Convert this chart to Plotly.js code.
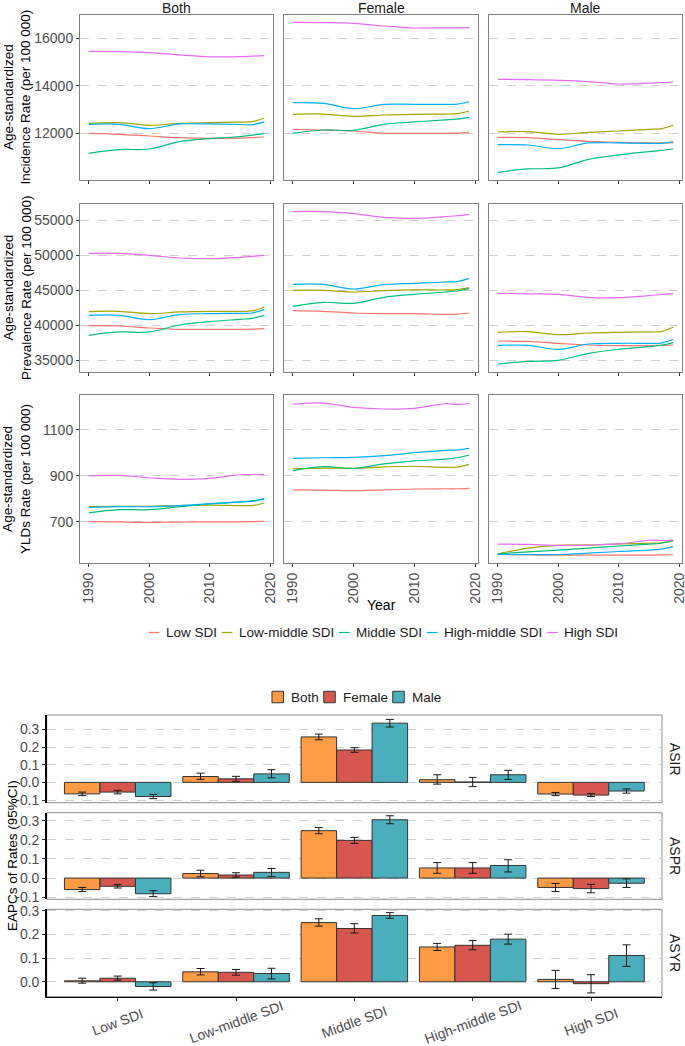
<!DOCTYPE html>
<html>
<head>
<meta charset="utf-8">
<script src="https://cdn.plot.ly/plotly-3.0.1.min.js"></script>
<style>html,body{margin:0;padding:0;background:#fff}#chart{width:685px;height:1046px}</style>
</head>
<body>
<div id="chart"></div>
<script>
// ---------------- DATA ----------------
const years = [1990, 1995, 2000, 2005, 2010, 2015, 2017, 2019];
const sdiLevels = ['Low SDI', 'Low-middle SDI', 'Middle SDI', 'High-middle SDI', 'High SDI'];
const sexes = ['Both', 'Female', 'Male'];
const measureTitles = ['Age-standardized<br>Incidence Rate (per 100 000)', 'Age-standardized<br>Prevalence Rate (per 100 000)', 'Age-standardized<br>YLDs Rate (per 100 000)'];

// series order in each: Low, Low-middle, Middle, High-middle, High SDI
const incidenceBoth = [
  [12000, 11958, 11887, 11817, 11789, 11800, 11817, 11845],
  [12421, 12450, 12337, 12421, 12450, 12470, 12490, 12645],
  [11158, 11313, 11340, 11650, 11775, 11860, 11920, 12000],
  [12379, 12379, 12194, 12393, 12393, 12370, 12360, 12480],
  [15450, 15440, 15400, 15300, 15220, 15230, 15250, 15270]
];
const incidenceFemale = [
  [12168, 12140, 12098, 12000, 12000, 12000, 12010, 12042],
  [12800, 12810, 12716, 12770, 12800, 12810, 12830, 12941],
  [12000, 12140, 12126, 12379, 12478, 12562, 12600, 12674],
  [13288, 13260, 13036, 13218, 13218, 13218, 13230, 13330],
  [16674, 16660, 16632, 16518, 16434, 16440, 16440, 16446]
];
const incidenceMale = [
  [11831, 11817, 11733, 11663, 11620, 11593, 11593, 11600],
  [12055, 12070, 11958, 12040, 12098, 12168, 12190, 12337],
  [10358, 10499, 10541, 10906, 11088, 11228, 11280, 11340],
  [11522, 11508, 11354, 11593, 11593, 11580, 11575, 11648],
  [14274, 14260, 14232, 14180, 14076, 14110, 14140, 14160]
];
const prevalenceBoth = [
  [39952, 39900, 39619, 39429, 39429, 39429, 39450, 39524],
  [41952, 42000, 41667, 41905, 42000, 42000, 42050, 42571],
  [38571, 39048, 39048, 40048, 40524, 40857, 41000, 41429],
  [41429, 41429, 40810, 41524, 41667, 41714, 41760, 42238],
  [50286, 50286, 50000, 49619, 49524, 49714, 49850, 50000]
];
const prevalenceFemale = [
  [42095, 42000, 41762, 41667, 41667, 41571, 41600, 41762],
  [45000, 45000, 44760, 44952, 45048, 45048, 45100, 45380],
  [42714, 43286, 43143, 44000, 44429, 44760, 44900, 45238],
  [45857, 45857, 45190, 45810, 46000, 46190, 46250, 46714],
  [56238, 56238, 55950, 55430, 55286, 55520, 55650, 55810]
];
const prevalenceMale = [
  [37762, 37700, 37429, 37190, 37095, 37095, 37120, 37190],
  [39000, 39100, 38667, 38900, 39000, 39050, 39100, 39714],
  [34476, 34857, 35000, 36000, 36571, 36952, 37150, 37524],
  [37143, 37143, 36571, 37333, 37429, 37429, 37450, 38000],
  [44571, 44500, 44429, 44000, 43952, 44250, 44400, 44524]
];
const yldsBoth = [
  [700, 699, 697, 698, 699, 699, 700, 701],
  [765, 766, 767, 770, 772, 770, 770, 781],
  [738, 752, 752, 765, 777, 786, 790, 799],
  [762, 765, 765, 770, 778, 786, 788, 800],
  [900, 901, 891, 884, 888, 904, 905, 906]
];
const yldsFemale = [
  [838, 837, 835, 838, 842, 843, 843, 845],
  [930, 933, 932, 938, 941, 936, 937, 949],
  [922, 939, 932, 951, 964, 972, 978, 990],
  [975, 978, 980, 987, 1000, 1010, 1012, 1019],
  [1210, 1216, 1197, 1190, 1193, 1213, 1210, 1214]
];
const yldsMale = [
  [557, 555, 554, 554, 554, 554, 555, 556],
  [560, 585, 597, 598, 603, 606, 608, 615],
  [560, 568, 576, 585, 594, 602, 606, 619],
  [557, 557, 557, 563, 570, 576, 580, 591],
  [602, 601, 597, 598, 603, 619, 618, 619]
];
const yearTicks = [1990, 2000, 2010, 2020];
const incidenceTicks = [12000, 14000, 16000];
const prevalenceTicks = [35000, 40000, 45000, 50000, 55000];
const yldsTicks = [700, 900, 1100];

// EAPC bar data: rows = Both, Female, Male; columns = SDI levels
const eapcMeasures = ['ASIR', 'ASPR', 'ASYR'];
const asirEst = [
  [-0.065, 0.033, 0.257, 0.015, -0.066],
  [-0.055, 0.020, 0.183, 0.002, -0.072],
  [-0.080, 0.048, 0.335, 0.043, -0.049]
];
const asirLower = [
  [-0.075, 0.017, 0.241, -0.010, -0.075],
  [-0.065, 0.006, 0.170, -0.024, -0.080],
  [-0.092, 0.026, 0.313, 0.017, -0.061]
];
const asirUpper = [
  [-0.055, 0.052, 0.273, 0.043, -0.057],
  [-0.045, 0.034, 0.196, 0.028, -0.064],
  [-0.068, 0.072, 0.356, 0.068, -0.037]
];
const asprEst = [
  [-0.060, 0.024, 0.248, 0.053, -0.049],
  [-0.043, 0.016, 0.197, 0.053, -0.055],
  [-0.082, 0.030, 0.305, 0.066, -0.027]
];
const asprLower = [
  [-0.071, 0.007, 0.232, 0.025, -0.070],
  [-0.052, 0.005, 0.181, 0.025, -0.077],
  [-0.097, 0.008, 0.284, 0.032, -0.049]
];
const asprUpper = [
  [-0.049, 0.041, 0.264, 0.081, -0.028],
  [-0.034, 0.028, 0.213, 0.081, -0.033],
  [-0.066, 0.050, 0.326, 0.096, -0.004]
];
const asyrEst = [
  [0.004, 0.042, 0.250, 0.147, 0.010],
  [0.015, 0.040, 0.225, 0.154, -0.008],
  [-0.020, 0.035, 0.280, 0.180, 0.111]
];
const asyrLower = [
  [-0.006, 0.029, 0.235, 0.132, -0.028],
  [0.007, 0.028, 0.206, 0.135, -0.047],
  [-0.035, 0.012, 0.268, 0.159, 0.065]
];
const asyrUpper = [
  [0.015, 0.056, 0.266, 0.162, 0.048],
  [0.024, 0.052, 0.245, 0.174, 0.030],
  [-0.004, 0.057, 0.292, 0.201, 0.156]
];
const eapcTickVals = [[-0.1, 0, 0.1, 0.2, 0.3], [-0.1, 0, 0.1, 0.2, 0.3], [0, 0.1, 0.2, 0.3]];
const eapcTickText = [['-0.1', '0.0', '0.1', '0.2', '0.3'], ['-0.1', '0.0', '0.1', '0.2', '0.3'], ['0.0', '0.1', '0.2', '0.3']];

// ---------------- STYLE / LAYOUT ----------------
const W = 685, H = 1046;
const fx = p => p / W;
const fy = p => 1 - p / H;
const FONT = 'Liberation Sans, Arial, Helvetica, sans-serif';
const lineColors = ['#F8766D', '#A3A500', '#00BF7D', '#00B0F6', '#E76BF3'];
const barColors = ['#FF9A45', '#D6574D', '#4AAEBD'];

const colPx = [[80, 273], [284, 478], [489, 682]];
const rowPx = [[15, 180], [204, 372], [395, 563]];
const yRanges = [[10034, 16981], [33330, 57330], [520, 1251]];

const lineData = [
  [incidenceBoth, incidenceFemale, incidenceMale],
  [prevalenceBoth, prevalenceFemale, prevalenceMale],
  [yldsBoth, yldsFemale, yldsMale]
];
const lineTicks = [incidenceTicks, prevalenceTicks, yldsTicks];

const traces = [];
const layout = {
  width: W, height: H,
  margin: {l: 0, r: 0, t: 0, b: 0},
  paper_bgcolor: '#fff', plot_bgcolor: '#fff',
  font: {family: FONT, size: 14, color: '#1A1A1A'},
  barmode: 'group', bargap: 0.1, bargroupgap: 0,
  showlegend: false,
  annotations: [], shapes: []
};

for (let r = 0; r < 3; r++) {
  for (let c = 0; c < 3; c++) {
    const i = r * 3 + c + 1;
    const s = i === 1 ? '' : String(i);
    for (let k = 0; k < 5; k++) {
      traces.push({
        type: 'scatter', mode: 'lines',
        x: years, y: lineData[r][c][k],
        xaxis: 'x' + s, yaxis: 'y' + s,
        name: sdiLevels[k], showlegend: false,
        line: {color: lineColors[k], width: 1.2, shape: 'spline', smoothing: 1},
        hoverinfo: 'skip'
      });
    }
    layout['xaxis' + s] = {
      domain: [fx(colPx[c][0]), fx(colPx[c][1])], anchor: 'y' + s,
      range: [1988.55, 2020.45], tickvals: yearTicks, tickformat: 'd',
      showticklabels: r === 2, tickangle: -90, ticklabeloverflow: 'allow',
      ticks: 'outside', ticklen: 3, tickcolor: '#333', tickwidth: 1,
      tickfont: {size: 14, color: '#4D4D4D'},
      showgrid: false, zeroline: false,
      showline: true, mirror: true, linecolor: '#7F7F7F', linewidth: 1
    };
    layout['yaxis' + s] = {
      domain: [fy(rowPx[r][1]), fy(rowPx[r][0])], anchor: 'x' + s,
      range: yRanges[r], tickvals: lineTicks[r], tickformat: 'd',
      showticklabels: c === 0, ticks: c === 0 ? 'outside' : '', ticklen: 3, tickcolor: '#333',
      tickfont: {size: 14, color: '#4D4D4D'},
      showgrid: true, gridcolor: '#D0D0D0', griddash: 'dash', gridwidth: 1,
      zeroline: false, showline: true, mirror: true, linecolor: '#7F7F7F', linewidth: 1
    };
  }
  layout.annotations.push({
    text: measureTitles[r], textangle: -90, showarrow: false,
    xref: 'paper', yref: 'paper', x: fx(17), y: fy((rowPx[r][0] + rowPx[r][1]) / 2),
    xanchor: 'center', yanchor: 'middle', font: {size: 13.5, color: '#000'}
  });
}
for (let c = 0; c < 3; c++) {
  layout.annotations.push({
    text: sexes[c], showarrow: false, xref: 'paper', yref: 'paper', borderpad: 0,
    x: fx((colPx[c][0] + colPx[c][1]) / 2), y: fy(-1), xanchor: 'center', yanchor: 'top',
    font: {size: 14, color: '#1A1A1A'}
  });
}
layout.annotations.push({
  text: 'Year', showarrow: false, xref: 'paper', yref: 'paper',
  x: fx(381), y: fy(605), xanchor: 'center', yanchor: 'middle', font: {size: 14, color: '#000'}
});

// ---- bars ----
const eapcEst = [asirEst, asprEst, asyrEst];
const eapcLow = [asirLower, asprLower, asyrLower];
const eapcUp = [asirUpper, asprUpper, asyrUpper];
const barPx = [[715, 802.7], [812.7, 899.3], [909.3, 996.7]];
const barXPx = [46.7, 662];
const barYRanges = [[-0.115, 0.381], [-0.111, 0.342], [-0.063, 0.306]];

for (let m = 0; m < 3; m++) {
  const n = String(10 + m);
  for (let s = 0; s < 3; s++) {
    const est = eapcEst[m][s];
    traces.push({
      type: 'bar', x: sdiLevels, y: est,
      xaxis: 'x' + n, yaxis: 'y' + n,
      name: sexes[s], offsetgroup: sexes[s], showlegend: false,
      marker: {color: barColors[s], line: {color: '#333333', width: 1}},
      error_y: {
        type: 'data', symmetric: false,
        array: est.map((v, j) => eapcUp[m][s][j] - v),
        arrayminus: est.map((v, j) => v - eapcLow[m][s][j]),
        color: '#1A1A1A', thickness: 1, width: 4
      },
      hoverinfo: 'skip'
    });
  }
  layout['xaxis' + n] = {
    domain: [fx(barXPx[0]), fx(barXPx[1])], anchor: 'y' + n,
    type: 'category', categoryorder: 'array', categoryarray: sdiLevels,
    range: [-0.6, 4.6], showticklabels: false,
    ticks: m === 2 ? 'outside' : '', ticklen: 3, tickcolor: '#333',
    showgrid: false, zeroline: false,
    showline: m === 2, linecolor: '#000', linewidth: 1.5
  };
  layout['yaxis' + n] = {
    domain: [fy(barPx[m][1]), fy(barPx[m][0])], anchor: 'x' + n,
    range: barYRanges[m], tickvals: eapcTickVals[m], ticktext: eapcTickText[m],
    ticks: 'outside', ticklen: 3, tickcolor: '#333',
    tickfont: {size: 14, color: '#4D4D4D'},
    showgrid: true, gridcolor: '#D0D0D0', griddash: 'dash', gridwidth: 1,
    zeroline: false, showline: true, linecolor: '#000', linewidth: 1.5
  };
  layout.shapes.push({
    type: 'rect', xref: 'x' + n + ' domain', yref: 'y' + n + ' domain',
    x0: 0, x1: 1, y0: 0, y1: 1, line: {color: '#8C8C8C', width: 1}, layer: 'below'
  });
  layout.annotations.push({
    text: eapcMeasures[m], textangle: 90, showarrow: false, xref: 'paper', yref: 'paper',
    x: fx(675), y: fy((barPx[m][0] + barPx[m][1]) / 2), xanchor: 'center', yanchor: 'middle',
    font: {size: 14, color: '#1A1A1A'}
  });
}
for (let k = 0; k < 5; k++) {
  layout.annotations.push({
    text: sdiLevels[k], textangle: -20, showarrow: false,
    xref: 'x12', yref: 'paper', x: sdiLevels[k], y: fy(1022),
    xanchor: 'center', yanchor: 'middle', font: {size: 14, color: '#4D4D4D'}
  });
}
layout.annotations.push({
  text: 'EAPCs of Rates (95%CI)', textangle: -90, showarrow: false, xref: 'paper', yref: 'paper',
  x: fx(12), y: fy(856), xanchor: 'center', yanchor: 'middle', font: {size: 13.5, color: '#000'}
});

// ---- legends (keys + real text labels), laid out by measured text width ----
const ctx = document.createElement('canvas').getContext('2d');
ctx.font = '13.5px "Liberation Sans", Arial, sans-serif';
const tw = t => ctx.measureText(t).width;

function addLegend(labels, centerX, centerY, keyW, keyGap, itemGap, drawKey) {
  const widths = labels.map(t => keyW + keyGap + tw(t));
  const total = widths.reduce((a, b) => a + b, 0) + itemGap * (labels.length - 1);
  let x = centerX - total / 2;
  labels.forEach((t, k) => {
    drawKey(k, x, centerY);
    layout.annotations.push({
      text: t, showarrow: false, xref: 'paper', yref: 'paper', borderpad: 0,
      x: fx(x + keyW + keyGap), y: fy(centerY), xanchor: 'left', yanchor: 'middle',
      font: {size: 13.5, color: '#1A1A1A'}
    });
    x += widths[k] + itemGap;
  });
}
addLegend(sdiLevels, 383, 632.5, 10.7, 5.3, 6, (k, x, y) => {
  layout.shapes.push({type: 'line', xref: 'paper', yref: 'paper',
    x0: fx(x), x1: fx(x + 10.7), y0: fy(y), y1: fy(y),
    line: {color: lineColors[k], width: 1.2}});
});
addLegend(sexes, 356, 697, 11.5, 6.5, 6, (k, x, y) => {
  layout.shapes.push({type: 'rect', xref: 'paper', yref: 'paper',
    x0: fx(x), x1: fx(x + 11.5), y0: fy(y + 5.75), y1: fy(y - 5.75),
    fillcolor: barColors[k], line: {color: '#333333', width: 1}});
});

Plotly.newPlot('chart', traces, layout, {displayModeBar: false, staticPlot: true});
</script>
</body>
</html>
